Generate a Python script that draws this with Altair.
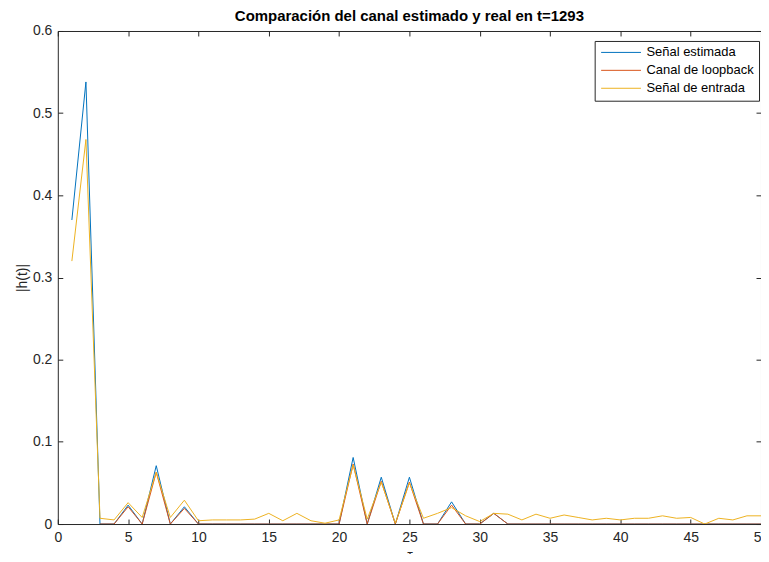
import altair as alt
import pandas as pd

# ---- data ----
tau = list(range(1, 51))

senal_estimada = [0.370, 0.538, 0, 0, 0.023, 0, 0.071, 0, 0.021, 0,
                  0, 0, 0, 0, 0, 0, 0, 0, 0, 0,
                  0.081, 0, 0.057, 0, 0.057, 0, 0, 0.027, 0, 0,
                  0.013, 0, 0, 0, 0, 0, 0, 0, 0, 0,
                  0, 0, 0, 0, 0, 0, 0, 0, 0, 0]

tau_loop = list(range(3, 51))
canal_loopback = [0, 0, 0.021, 0, 0.063, 0, 0.019, 0,
                  0, 0, 0, 0, 0, 0, 0, 0, 0, 0,
                  0.073, 0, 0.052, 0, 0.051, 0, 0, 0.023, 0, 0,
                  0.013, 0, 0, 0, 0, 0, 0, 0, 0, 0,
                  0, 0, 0, 0, 0, 0, 0, 0, 0, 0]

senal_entrada = [0.320, 0.468, 0.007, 0.005, 0.026, 0.008, 0.063, 0.008, 0.029, 0.004,
                 0.005, 0.005, 0.005, 0.006, 0.013, 0.004, 0.013, 0.004, 0.001, 0.005,
                 0.072, 0.006, 0.051, 0.001, 0.050, 0.007, 0.013, 0.020, 0.010, 0.003,
                 0.013, 0.012, 0.005, 0.012, 0.007, 0.011, 0.008, 0.005, 0.007, 0.005,
                 0.007, 0.007, 0.010, 0.007, 0.008, 0.000, 0.007, 0.005, 0.010, 0.010]

series_names = ["Señal estimada", "Canal de loopback", "Señal de entrada"]
series_colors = ["#0072BD", "#D95319", "#EDB120"]

x_ticks = list(range(0, 51, 5))
y_ticks = [0, 0.1, 0.2, 0.3, 0.4, 0.5, 0.6]

rows = []
for t, v in zip(tau, senal_estimada):
    rows.append({"tau": t, "h": v, "serie": series_names[0]})
for t, v in zip(tau_loop, canal_loopback):
    rows.append({"tau": t, "h": v, "serie": series_names[1]})
for t, v in zip(tau, senal_entrada):
    rows.append({"tau": t, "h": v, "serie": series_names[2]})
df = pd.DataFrame(rows)

W, H = 706, 495
AX = "#262626"
FONT = "Liberation Sans"

xs = alt.Scale(domain=[0, 50], nice=False, zero=False)
ys = alt.Scale(domain=[0, 0.6], nice=False)

base = alt.Chart(df)

lines = base.mark_line(strokeWidth=1, clip=True).encode(
    x=alt.X("tau:Q", scale=xs, axis=alt.Axis(
        orient="bottom", values=x_ticks, ticks=False, domain=True, domainColor=AX,
        labelFontSize=14, labelColor=AX, labelFont=FONT, labelPadding=7,
        title="τ", titleFont=FONT, titleFontSize=14, titleFontWeight="normal",
        titleColor=AX, titlePadding=4, grid=False, labelFlush=False)),
    y=alt.Y("h:Q", scale=ys, axis=alt.Axis(
        orient="left", values=y_ticks, format="~g", ticks=False, domain=True, domainColor=AX,
        labelFontSize=14, labelColor=AX, labelFont=FONT, labelPadding=6,
        title="|h(t)|", titleFont=FONT, titleFontSize=14, titleFontWeight="normal",
        titleColor=AX, titlePadding=3, grid=False, labelFlush=False)),
    color=alt.Color("serie:N", scale=alt.Scale(domain=series_names, range=series_colors),
                    legend=alt.Legend(
                        title=None, orient="none", legendX=539, legendY=10,
                        strokeColor=AX, fillColor="white", padding=5,
                        symbolType="M-4,0H4", symbolSize=100, symbolStrokeWidth=1,
                        symbolOffset=15, labelOffset=19,
                        labelFont=FONT, labelFontSize=13, labelColor="#000000",
                        rowPadding=4)),
)

ticks_a = base.mark_point(opacity=0).encode(
    x=alt.X("tau:Q", scale=xs, axis=alt.Axis(
        orient="top", offset=-H, values=x_ticks, labels=False, ticks=True, tickSize=5,
        tickColor=AX, domain=False, title=None, grid=False)),
    y=alt.Y("h:Q", scale=ys, axis=alt.Axis(
        orient="right", offset=-W, values=y_ticks, labels=False, ticks=True, tickSize=5,
        tickColor=AX, domain=False, title=None, grid=False)),
)

ticks_b = base.mark_point(opacity=0).encode(
    x=alt.X("tau:Q", scale=xs, axis=alt.Axis(
        orient="bottom", offset=-H, values=x_ticks, labels=False, ticks=True, tickSize=5,
        tickColor=AX, domain=True, domainColor=AX, title=None, grid=False)),
    y=alt.Y("h:Q", scale=ys, axis=alt.Axis(
        orient="left", offset=-W, values=y_ticks, labels=False, ticks=True, tickSize=5,
        tickColor=AX, domain=True, domainColor=AX, title=None, grid=False)),
)

chart = alt.layer(lines, ticks_a, ticks_b).resolve_scale(
    x="shared", y="shared"
).resolve_axis(
    x="independent", y="independent"
).properties(
    width=W, height=H,
    title=alt.TitleParams("Comparación del canal estimado y real en t=1293",
                          font=FONT, fontSize=15, fontWeight="bold", color="#000000",
                          offset=0, anchor="middle", frame="group"),
    autosize=alt.AutoSizeParams(type="none"),
    padding={"left": 50, "top": 22, "right": 0, "bottom": 29},
    background="white",
).configure_view(stroke=None)

chart.save("out.html", embed_options={"renderer": "svg", "actions": False})
